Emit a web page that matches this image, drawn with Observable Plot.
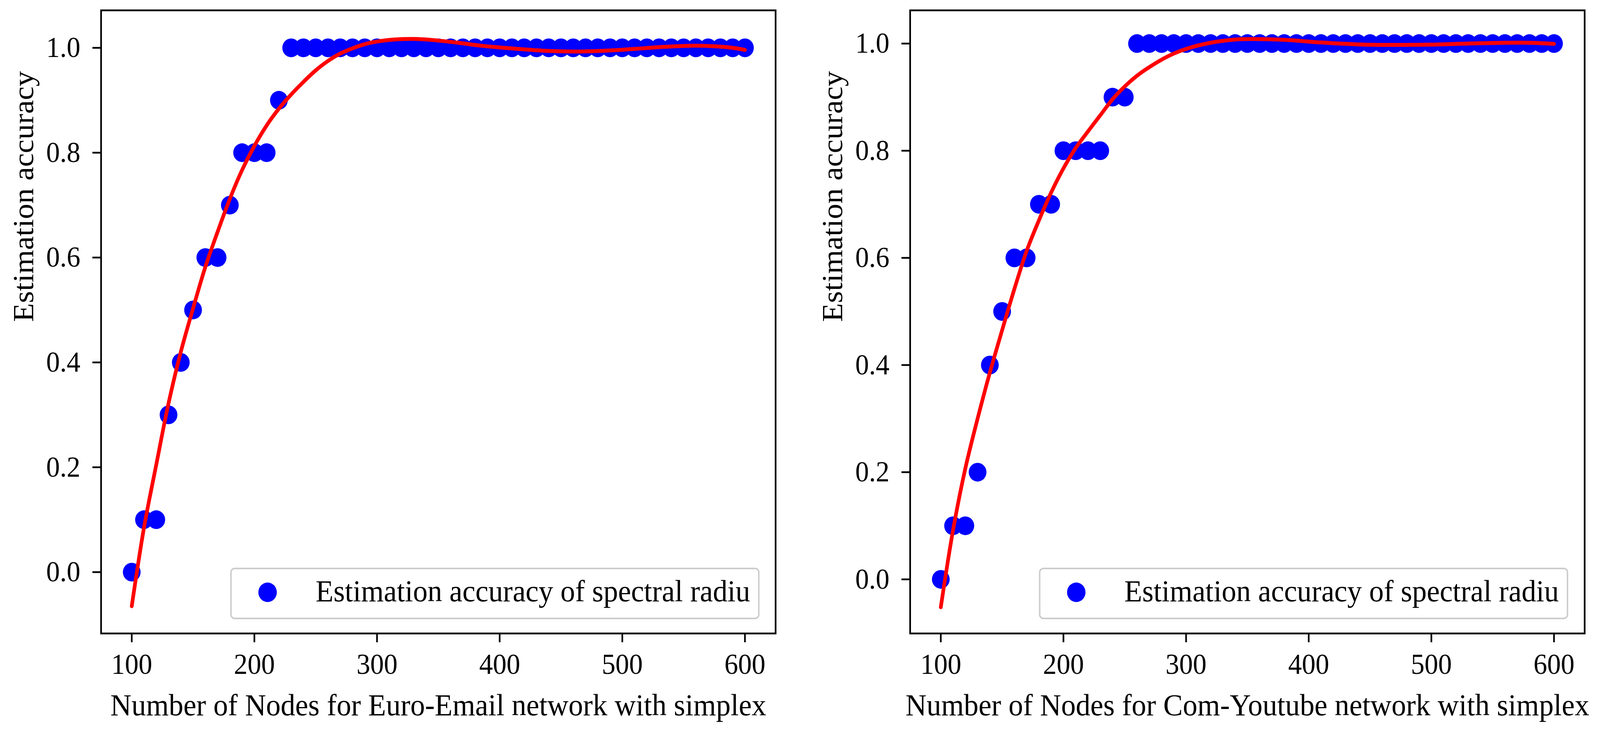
<!DOCTYPE html>
<html>
<head>
<meta charset="utf-8">
<script src="https://cdn.jsdelivr.net/npm/d3@7"></script>
<script src="https://cdn.jsdelivr.net/npm/@observablehq/plot@0.6"></script>
<style>
  body { margin: 0; background: #fff; overflow: hidden; }
  #charts { display: flex; width: 4329px; height: 1880px; transform-origin: 0 0; }
  .panel { position: relative; }
  .legend {
    position: absolute; box-sizing: border-box; width: 1432px; height: 132px;
    border: 4.5px solid #cccccc; border-radius: 12px; background: rgba(255,255,255,0.8);
    font-family: "Liberation Serif", serif; font-size: 79px; line-height: 1; color: #000;
  }
  .legend .dot { position: absolute; left: 72px; top: 34px; width: 50px; height: 50px; border-radius: 50%; background: #0000ff; }
  .legend .txt { position: absolute; left: 227px; top: 16px; white-space: nowrap; }
</style>
</head>
<body>
<div id="charts"></div>
<script>
// nodes sampled in both experiments
const nodes = [100,110,120,130,140,150,160,170,180,190,200,210,220,230,240,250,260,270,280,290,
  300,310,320,330,340,350,360,370,380,390,400,410,420,430,440,450,460,470,480,490,
  500,510,520,530,540,550,560,570,580,590,600]

// estimation accuracy, Euro-Email
const emailAcc = [0,0.1,0.1,0.3,0.4,0.5,0.6,0.6,0.7,0.8,0.8,0.8,0.9,1,1,1,1,1,1,1,
  1,1,1,1,1,1,1,1,1,1,1,1,1,1,1,1,1,1,1,1,
  1,1,1,1,1,1,1,1,1,1,1]

// estimation accuracy, Com-Youtube
const youtubeAcc = [0,0.1,0.1,0.2,0.4,0.5,0.6,0.6,0.7,0.7,0.8,0.8,0.8,0.8,0.9,0.9,1,1,1,1,
  1,1,1,1,1,1,1,1,1,1,1,1,1,1,1,1,1,1,1,1,
  1,1,1,1,1,1,1,1,1,1,1]

// red fitted curves
const emailFitX = [100,110,120,130,140,150,160,170,180,190,200,210,220,230,240,250,260,270,280,290,
  300,315,330,345,365,385,415,440,465,490,510,535,555,575,590,600]
const emailFitY = [-0.065,0.085,0.205,0.322,0.42,0.503,0.582,0.649,0.712,0.767,0.813,0.852,0.884,0.911,0.935,0.957,0.975,0.989,0.999,1.007,
  1.012,1.016,1.017,1.015,1.010,1.004,0.998,0.994,0.993,0.995,0.998,1.002,1.004,1.003,1.0,0.996]

const youtubeFitX = [100,110,120,130,140,150,160,170,180,190,200,210,220,230,240,250,260,270,285,300,
  320,340,355,380,410,440,470,500,530,560,580,600]
const youtubeFitY = [-0.052,0.092,0.207,0.300,0.386,0.465,0.542,0.613,0.670,0.722,0.767,0.805,0.836,0.866,0.896,0.920,0.940,0.956,0.976,0.990,
  1.0015,1.0075,1.0085,1.007,1.002,0.9985,0.9975,0.998,1.0,1.0015,1.0015,0.9995]

const xTicks = [100,200,300,400,500,600]
const yTicks = [0,0.2,0.4,0.6,0.8,1.0]
const legendText = "Estimation accuracy of spectral radiu"

function panel(opts) {
  const pts = nodes.map((n, i) => ({n, acc: opts.acc[i]}))
  const fit = opts.fitX.map((n, i) => ({n, v: opts.fitY[i]}))

  const chart = Plot.plot({
    width: opts.width,
    height: 1880,
    marginLeft: opts.marginLeft,
    marginRight: opts.marginRight,
    marginTop: 26,
    marginBottom: 258,
    style: {fontFamily: "Liberation Serif", fontSize: "74px", background: "#fff", color: "#000", overflow: "visible"},
    x: {domain: [75, 625], label: null},
    y: {domain: opts.yDomain, label: null},
    marks: [
      Plot.dot(pts, {x: "n", y: "acc", r: 24, fill: "#0000ff"}),
      Plot.line(fit, {x: "n", y: "v", stroke: "#ff0000", strokeWidth: 10, curve: "catmull-rom"}),
      Plot.frame({stroke: "#000", strokeWidth: 4.5}),
      Plot.axisX({ticks: xTicks, tickSize: 23, tickPadding: 28, strokeWidth: 4.5, label: null}),
      Plot.axisY({ticks: yTicks, tickFormat: d3.format(".1f"), tickSize: 23, tickPadding: 33, strokeWidth: 4.5, label: null}),
      Plot.text([opts.xLabel], {frameAnchor: "bottom", lineAnchor: "top", dy: 153, fontSize: 79, text: d => d}),
      Plot.text(["Estimation accuracy"], {frameAnchor: "left", lineAnchor: "top", rotate: -90, dx: -240, fontSize: 79, text: d => d})
    ]
  })

  const div = d3.select("#charts").append("div").attr("class", "panel").style("width", opts.width + "px")
  div.append(() => chart)
  const leg = div.append("div").attr("class", "legend")
    .style("left", opts.legendLeft + "px").style("top", "1454px")
  leg.append("span").attr("class", "dot")
  leg.append("span").attr("class", "txt").text(legendText)
}

panel({acc: emailAcc, fitX: emailFitX, fitY: emailFitY, width: 2165, marginLeft: 273, marginRight: 67,
  yDomain: [-0.117, 1.0715], xLabel: "Number of Nodes for Euro-Email network with simplex", legendLeft: 623})
panel({acc: youtubeAcc, fitX: youtubeFitX, fitY: youtubeFitY, width: 2164, marginLeft: 297, marginRight: 42,
  yDomain: [-0.101, 1.062], xLabel: "Number of Nodes for Com-Youtube network with simplex", legendLeft: 646})

// the window may be narrower than the 4329px figure: fit it to the width
const sx = Math.min(1, window.innerWidth / 4329)
document.getElementById("charts").style.transform = `scale(${sx}, 1)`
</script>
</body>
</html>
